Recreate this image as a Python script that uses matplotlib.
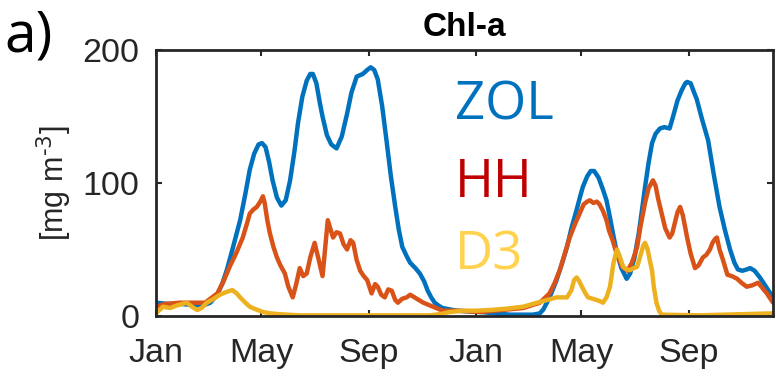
import matplotlib
matplotlib.use("Agg")
import matplotlib.pyplot as plt

# ---- data (day of record, starting Jan 1 of year 1) ----
zol_day = [0, 15, 30, 45, 54, 62, 70, 76, 81, 88, 96, 102, 107, 112, 117, 121, 125, 129,
           133, 138, 143, 148, 153, 158, 162, 167, 172, 176, 179, 183, 187, 190, 195, 200,
           206, 212, 218, 223, 229, 236, 241, 245, 249, 253, 258, 263, 268, 273, 277, 281,
           286, 290, 296, 301, 306, 310, 314, 318, 322, 327, 335, 343, 370, 404, 430, 438,
           442, 446, 451, 457, 463, 469, 474, 480, 484, 487, 492, 496, 500, 505, 510, 514,
           518, 522, 526, 531, 537, 541, 546, 551, 555, 558, 562, 566, 570, 575, 580, 586,
           590, 595, 600, 604, 606, 610, 614, 617, 623, 630, 636, 643, 649, 655, 660, 664,
           669, 674, 678, 683, 689, 695, 701, 704]
zol_val = [10, 9, 9, 8, 8, 10, 16, 25, 35, 52, 72, 92, 110, 122, 129, 130, 127, 116,
           102, 89, 83, 87, 102, 124, 145, 165, 177, 182, 182, 175, 160, 150, 136, 129,
           126, 135, 152, 168, 180, 182, 185, 187, 185, 178, 158, 132, 105, 82, 65, 52,
           45, 40, 36, 32, 26, 19, 14, 10, 8, 6, 5, 4, 3, 1, 1, 2,
           5, 10, 17, 27, 39, 52, 66, 80, 90, 97, 105, 109, 109, 104, 95, 87,
           74, 60, 47, 36, 28, 32, 44, 63, 82, 97, 115, 130, 137, 141, 142, 141,
           150, 162, 170, 175, 176, 175, 168, 163, 148, 132, 108, 82, 65, 50, 40, 35,
           34, 35, 36, 34, 29, 23, 17, 12]

hh_day = [0, 10, 27, 56, 70, 77, 84, 92, 99, 104, 107, 111, 115, 119, 122, 124, 127, 130,
          134, 138, 142, 147, 151, 156, 160, 164, 168, 172, 176, 181, 185, 190, 196, 202,
          206, 210, 214, 218, 222, 225, 229, 233, 237, 241, 246, 250, 253, 257, 261, 265,
          269, 273, 276, 281, 286, 290, 295, 300, 305, 316, 327, 343, 370, 419, 438, 449,
          455, 461, 466, 472, 478, 484, 488, 492, 495, 499, 503, 506, 510, 514, 517, 521,
          526, 532, 538, 543, 549, 553, 558, 562, 567, 570, 573, 577, 581, 586, 589, 592,
          595, 598, 601, 604, 606, 610, 615, 619, 624, 628, 632, 635, 638, 640, 643, 647,
          652, 657, 663, 668, 674, 680, 687, 692, 697, 701, 704]
hh_val = [7, 9, 10, 10, 17, 26, 37, 48, 59, 70, 77, 80, 82, 86, 90, 85, 72, 62,
          52, 44, 38, 32, 22, 14, 24, 36, 30, 32, 44, 55, 44, 30, 72, 59,
          63, 62, 54, 50, 57, 55, 42, 34, 30, 27, 17, 24, 22, 16, 14, 20,
          19, 12, 10, 13, 14, 16, 14, 12, 10, 7, 4, 4, 3, 6, 10, 17,
          25, 35, 46, 59, 69, 78, 84, 86, 87, 85, 86, 84, 79, 72, 64, 57,
          46, 37, 34, 40, 52, 68, 85, 96, 102, 98, 88, 77, 66, 59, 62, 70,
          78, 82, 76, 66, 59, 47, 36, 38, 44, 46, 50, 55, 58, 59, 50, 42,
          31, 30, 28, 25, 22, 23, 25, 21, 17, 13, 10]

d3_day = [0, 8, 16, 24, 35, 41, 47, 52, 58, 66, 73, 80, 87, 92, 96, 102, 107, 114, 122,
          130, 138, 150, 164, 313, 325, 335, 350, 365, 381, 400, 419, 435, 446, 457, 469,
          474, 477, 480, 483, 486, 490, 493, 498, 503, 507, 510, 514, 518, 522, 526, 529,
          533, 537, 541, 545, 549, 553, 556, 558, 561, 564, 566, 568, 571, 574, 577, 620,
          704]
d3_val = [2, 7, 6, 8, 10, 7, 4.5, 6, 10, 13, 16, 18, 19.5, 17, 14, 10, 7, 5, 3,
          2, 1.5, 1, 0.5, 0.5, 1.5, 3, 4, 4, 4.5, 5.5, 7, 10, 12, 14, 14,
          19.5, 27, 29, 26, 22, 17, 14, 13, 12, 11, 10, 14, 22, 40, 50, 45,
          37, 35, 34.5, 36, 37, 46, 53, 55, 50, 40, 34, 22, 10, 4, 1, 0.5,
          2]

tick_days = [0, 120, 243, 365, 485, 608]
tick_labels = ["Jan", "May", "Sep", "Jan", "May", "Sep"]
y_ticks = [0, 100, 200]
series_names = ["ZOL", "HH", "D3"]

# ---- style ----
W, H = 776, 376
fig = plt.figure(figsize=(W / 100, H / 100), dpi=100)
ax = fig.add_axes([156 / W, 1 - 316 / H, (773 - 156) / W, (316 - 50) / H])

c_zol = "#0072BD"
c_hh = "#D95319"
c_d3 = "#EDB120"
lw = 3.2
for d, v, c in [(zol_day, zol_val, c_zol), (hh_day, hh_val, c_hh), (d3_day, d3_val, c_d3)]:
    ax.plot(d, v, color=c, lw=lw, solid_joinstyle="round", solid_capstyle="round")

ax.set_xlim(0, 704)
ax.set_ylim(0, 200)
ax.set_xticks(tick_days)
ax.set_xticklabels(tick_labels)
ax.set_yticks(y_ticks)

for lab in ax.get_xticklabels() + ax.get_yticklabels():
    lab.set_fontfamily("Liberation Sans")
    lab.set_fontsize(24.5)
    lab.set_color("#262626")

ax.tick_params(axis="both", direction="in", length=4, width=1.5, colors="#262626",
               top=True, right=True)
ax.tick_params(axis="x", pad=16)
ax.tick_params(axis="y", pad=12)
for s in ax.spines.values():
    s.set_linewidth(2.0)
    s.set_color("#262626")

ax.set_ylabel(r"[mg m$^{\text{-3}}$]", fontsize=22, family="Liberation Sans",
              color="#262626", labelpad=6)
ax.set_title("Chl-a", fontsize=24, fontweight="bold", family="Liberation Sans",
             pad=10, color="black")

# coloured series labels
fig.text(455 / W, 1 - 120 / H, series_names[0], color=c_zol, fontsize=38,
         family="Open Sans", va="baseline", ha="left")
fig.text(455 / W, 1 - 197 / H, series_names[1], color="#C00000", fontsize=38,
         family="Open Sans", va="baseline", ha="left")
fig.text(455 / W, 1 - 270 / H, series_names[2], color="#FFD34F", fontsize=38,
         family="Open Sans", va="baseline", ha="left")

fig.text(4 / W, 1 - 52 / H, "a)", color="black", fontsize=41, family="Open Sans",
         va="baseline", ha="left")

fig.savefig("out.png", dpi=100)
